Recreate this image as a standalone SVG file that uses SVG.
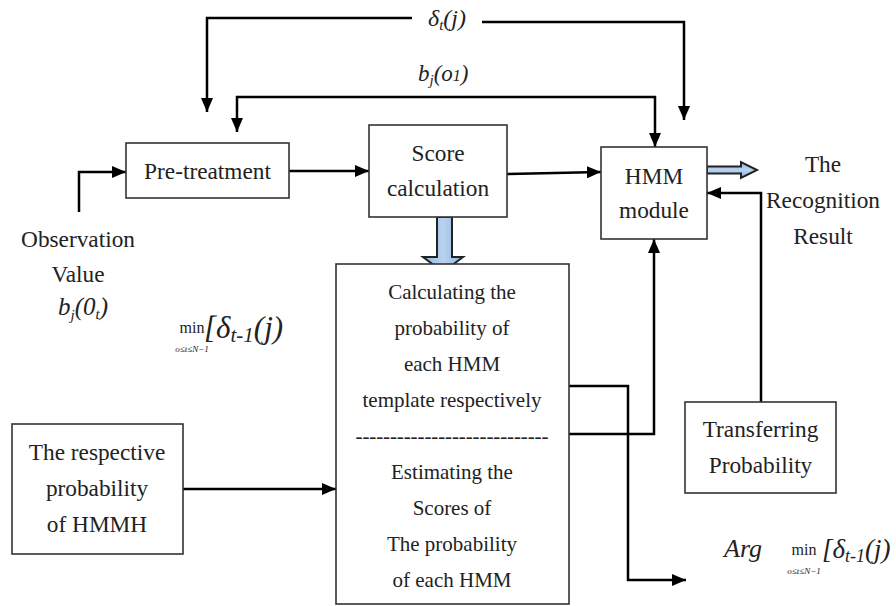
<svg xmlns="http://www.w3.org/2000/svg" width="896" height="606" viewBox="0 0 896 606">
<defs>
<marker id="ah" markerUnits="userSpaceOnUse" markerWidth="14" markerHeight="12" refX="14" refY="6" orient="auto">
<path d="M0,0 L14,6 L0,12 z" fill="#000"/>
</marker>
<linearGradient id="bl" x1="0" y1="0" x2="1" y2="0">
<stop offset="0" stop-color="#8fb4df"/><stop offset="0.5" stop-color="#b9d2ee"/><stop offset="1" stop-color="#8fb4df"/>
</linearGradient>
<linearGradient id="bl2" x1="0" y1="0" x2="0" y2="1">
<stop offset="0" stop-color="#8fb4df"/><stop offset="0.5" stop-color="#b9d2ee"/><stop offset="1" stop-color="#8fb4df"/>
</linearGradient>
</defs>
<style>
.box{fill:#fff;stroke:#333;stroke-width:1.6}
text{font-family:'Liberation Serif','Times New Roman','DejaVu Serif',serif}
.t{font-size:23.3px;fill:#222;text-anchor:middle}
.tb{font-size:21px;fill:#222;text-anchor:middle}
.m{font-style:italic;fill:#222}
.r{fill:#222}
.c{fill:none;stroke:#000;stroke-width:2.5}
.blk{stroke:#222;stroke-width:2}
</style>
<rect width="896" height="606" fill="#fff"/>

<g id="connectors">
<path class="c" d="M79,212 V172 H126" marker-end="url(#ah)"/>
<path class="c" d="M289,171 H369" marker-end="url(#ah)"/>
<path class="c" d="M507,174 L601,172" marker-end="url(#ah)"/>
<path class="c" d="M412,18 H207 V112" marker-end="url(#ah)"/>
<path class="c" d="M482,22 H684 V120" marker-end="url(#ah)"/>
<path class="c" d="M446,97 H237 V132" marker-end="url(#ah)"/>
<path class="c" d="M446,97 H655 V147" marker-end="url(#ah)"/>
<path class="c" d="M569,386 H628 V580 H686" marker-end="url(#ah)"/>
<path class="c" d="M569,434 H654 V239" marker-end="url(#ah)"/>
<path class="c" d="M761,402 V193 H707" marker-end="url(#ah)"/>
<path class="c" d="M183,489 H336" marker-end="url(#ah)"/>
<path class="blk" fill="url(#bl2)" d="M707,166.5 H741 V162 L757,170 L741,178 V173.5 H707 z"/>
<path class="blk" fill="url(#bl)" d="M437,217 H452 V257 H463 L443,272 L423,257 H437 z"/>
</g>

<g id="labels">
<text class="m" x="428" y="26" font-size="24">δ<tspan font-size="15" dy="4">t</tspan><tspan dy="-4">(j)</tspan></text>
<text class="m" x="418" y="81" font-size="23">b<tspan font-size="15" dy="4">j</tspan><tspan dy="-4">(o</tspan><tspan font-size="16">1</tspan>)</text>
<g id="observation">
<text class="t" x="78" y="247">Observation</text>
<text class="t" x="78" y="282">Value</text>
<text class="m" x="58" y="315" font-size="25">b<tspan font-size="15" dy="5">j</tspan><tspan dy="-5">(0</tspan><tspan font-size="15" dy="4">t</tspan><tspan dy="-4">)</tspan></text>
</g>
<g id="min1">
<text class="r" x="192" y="333" font-size="16" text-anchor="middle">min</text>
<text class="m" x="192" y="352" font-size="9" text-anchor="middle">o≤t≤N−1</text>
<text class="m" x="204" y="338" font-size="31">[δ<tspan font-size="21" dy="4">t-1</tspan><tspan dy="-4">(j)</tspan></text>
</g>
<g id="result">
<text class="t" x="823" y="172">The</text>
<text class="t" x="823" y="208">Recognition</text>
<text class="t" x="823" y="244">Result</text>
</g>
<g id="argmin">
<text class="m" x="724" y="557" font-size="26">Arg</text>
<text class="r" x="804" y="555" font-size="16" text-anchor="middle">min</text>
<text class="m" x="804" y="574" font-size="9" text-anchor="middle">o≤t≤N−1</text>
<text class="m" x="822" y="558" font-size="27">[δ<tspan font-size="18" dy="4">t-1</tspan><tspan dy="-4">(j)</tspan></text>
</g>
</g>

<g id="pretreatment">
<rect class="box" x="126" y="143" width="163" height="55"/>
<text class="t" x="207.5" y="179">Pre-treatment</text>
</g>
<g id="score">
<rect class="box" x="369" y="125" width="138" height="92"/>
<text class="t" x="438" y="161">Score</text>
<text class="t" x="438" y="196">calculation</text>
</g>
<g id="hmm">
<rect class="box" x="601" y="147" width="106" height="92"/>
<text class="t" x="654" y="184">HMM</text>
<text class="t" x="654" y="218">module</text>
</g>
<g id="calc">
<rect class="box" x="336" y="264" width="233" height="340"/>
<text class="tb" x="452" y="299">Calculating the</text>
<text class="tb" x="452" y="335">probability of</text>
<text class="tb" x="452" y="371">each HMM</text>
<text class="tb" x="452" y="407">template respectively</text>
<text class="tb" x="452" y="443" textLength="193" lengthAdjust="spacing">----------------------------</text>
<text class="tb" x="452" y="479">Estimating the</text>
<text class="tb" x="452" y="515">Scores of</text>
<text class="tb" x="452" y="551">The probability</text>
<text class="tb" x="452" y="587">of each HMM</text>
</g>
<g id="transfer">
<rect class="box" x="685" y="402" width="151" height="91"/>
<text class="t" x="760.5" y="437">Transferring</text>
<text class="t" x="760.5" y="473">Probability</text>
</g>
<g id="respective">
<rect class="box" x="12" y="424" width="171" height="130"/>
<text class="t" x="97" y="460">The respective</text>
<text class="t" x="97" y="496">probability</text>
<text class="t" x="97" y="532">of HMMH</text>
</g>
</svg>
